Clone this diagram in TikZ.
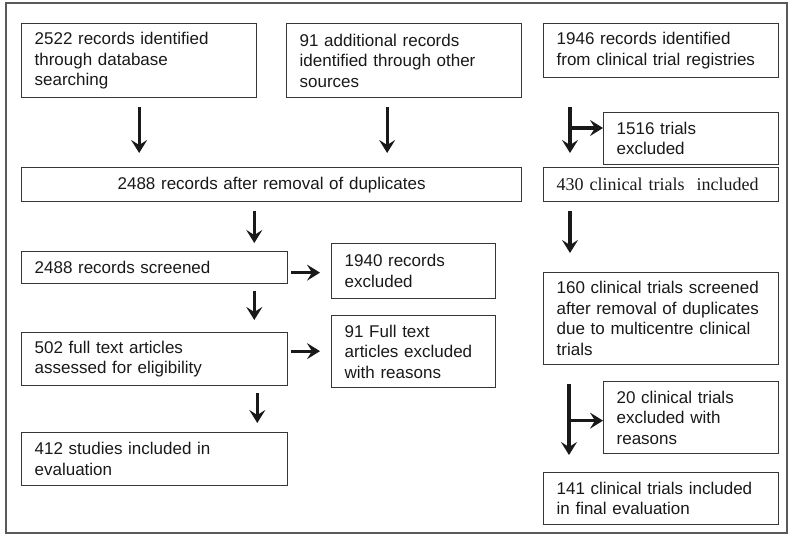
\documentclass[tikz,border=0pt]{standalone}
\usepackage{fontspec}
\setmainfont{Liberation Sans}
\newfontfamily\trialfont{Liberation Serif}
\usepackage{tikz}
\usetikzlibrary{calc}
\usetikzlibrary{arrows.meta}
\definecolor{boxline}{RGB}{55,55,55}
\tikzstyle{box} = [rectangle, 
draw=boxline, line width=1.3pt,
anchor=north west, 
inner xsep=13pt, inner ysep=0pt,
align=left, text=black!90,
font=\fontsize{17}{20.5}\selectfont]
\tikzstyle{arrow} = [line width=3.2pt, black!90, -{Stealth[length=13pt,width=16pt,inset=5pt]}]

\begin{document}
\begin{tikzpicture}[x=1pt, y=-1pt]
    \useasboundingbox (0,0) rectangle (800,543);
    \draw[line width=1.4pt, black!65] (6,3) rectangle (787,533);

    % identification
    \node[box, minimum width=235pt, minimum height=74pt, text width=209pt] (db) at (21,23) {2522 records identified\\through database\\searching};
    \node[box, minimum width=235pt, minimum height=74pt, text width=209pt] (other) at (286,23) {91 additional records\\identified through other\\sources};
    \node[box, minimum width=235pt, minimum height=54pt, text width=209pt] (reg) at (543,23) {1946 records identified\\from clinical trial registries};
    \node[box, minimum width=175pt, minimum height=52pt, text width=149pt] (regex) at (603,112) {1516 trials\\excluded};

    % duplicates
    \node[box, minimum width=500pt, minimum height=34pt, text width=474pt, align=center] (dup) at (21,167) {2488 records after removal of duplicates};
    \node[box, minimum width=235pt, minimum height=34pt, text width=209pt, font=\trialfont\fontsize{18}{21}\selectfont] (regin) at (543,167) {430 clinical trials\ \ included};

    % screening
    \node[box, minimum width=266pt, minimum height=32pt, text width=240pt] (scr) at (21,251) {2488 records screened};
    \node[box, minimum width=164pt, minimum height=55pt, text width=138pt] (screx) at (331,243) {1940 records\\excluded};
    \node[box, minimum width=235pt, minimum height=92pt, text width=209pt] (trscr) at (543,272) {160 clinical trials screened\\after removal of duplicates\\due to multicentre clinical\\trials};

    % eligibility
    \node[box, minimum width=266pt, minimum height=53pt, text width=240pt] (full) at (21,332) {502 full text articles\\assessed for eligibility};
    \node[box, minimum width=164pt, minimum height=72pt, text width=138pt] (fullex) at (331,315) {91 Full text\\articles excluded\\with reasons};
    \node[box, minimum width=175pt, minimum height=72pt, text width=149pt] (trex) at (603,381) {20 clinical trials\\excluded with\\reasons};

    % included
    \node[box, minimum width=266pt, minimum height=53pt, text width=240pt] (incl) at (21,432) {412 studies included in\\evaluation};
    \node[box, minimum width=235pt, minimum height=52pt, text width=209pt] (trincl) at (543,472) {141 clinical trials included\\in final evaluation};

    % draw arrows
    \draw[arrow, shorten <=9pt, shorten >=14pt] (db.south) -- (db.south |- dup.north);
    \draw[arrow, shorten <=9pt, shorten >=14pt] ([xshift=-17pt]other.south) -- ([xshift=-17pt]other.south |- dup.north);
    \coordinate (r1) at ([xshift=27pt]reg.south west);
    \coordinate (r2) at (r1 |- regex.north);
    \draw[arrow, shorten <=29pt, shorten >=14pt] (r1) -- (r1 |- regin.north);
    \draw[arrow] ($(r2)+(0,16)$) -- ($(r2 -| regex.west)+(0,16)$);

    \draw[arrow, shorten <=9pt, shorten >=8pt] ([xshift=-34pt]scr.north east |- dup.south) -- ([xshift=-34pt]scr.north east);
    \draw[arrow, shorten <=9pt, shorten >=19pt] ([xshift=27pt]regin.south west) -- ([xshift=27pt]regin.south west |- trscr.north);

    \draw[arrow, shorten <=3pt, shorten >=11pt] ([yshift=-5pt]scr.east) -- ([yshift=-5pt]scr.east -| screx.west);
    \draw[arrow, shorten <=7pt, shorten >=12pt] ([xshift=-34pt]scr.south east) -- ([xshift=-34pt]scr.south east |- full.north);

    \draw[arrow, shorten <=3pt, shorten >=11pt] ([yshift=8pt]full.east) -- ([yshift=8pt]full.east -| fullex.west);
    \draw[arrow, shorten <=7pt, shorten >=9pt] ([xshift=-31pt]full.south east) -- ([xshift=-31pt]full.south east |- incl.north);

    \coordinate (t1) at ([xshift=26pt]trscr.south west);
    \coordinate (t2) at (t1 |- trex.west);
    \draw[arrow, shorten <=19pt, shorten >=17pt] (t1) -- (t1 |- trincl.north);
    \draw[arrow] ($(t2)+(0,3)$) -- ($(trex.west)+(0,3)$);
\end{tikzpicture}
\end{document}
